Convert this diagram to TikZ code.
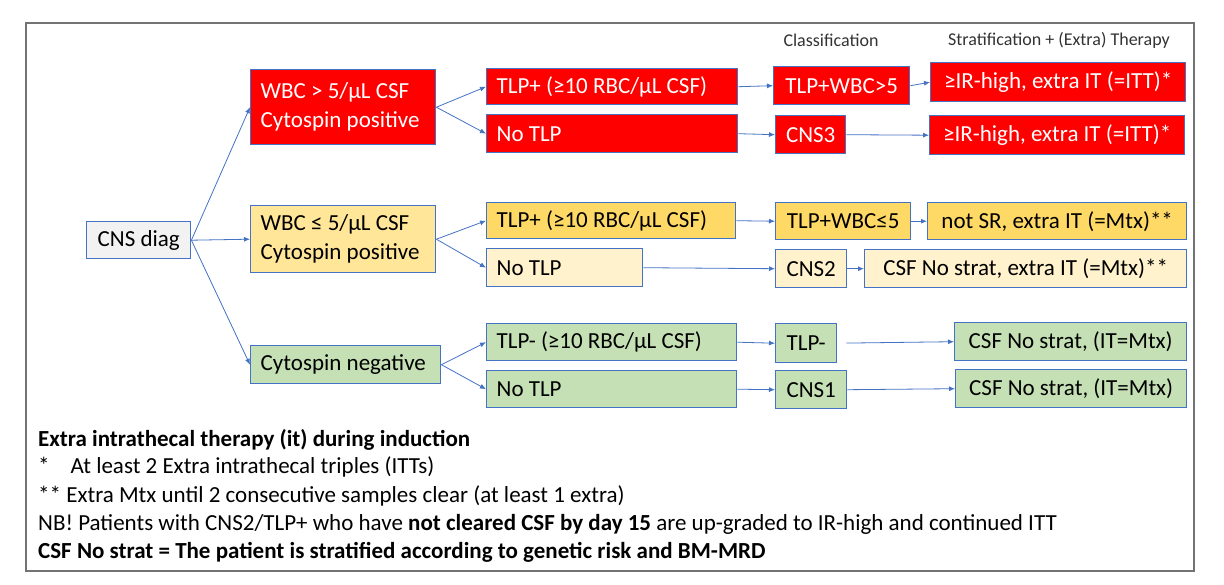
\documentclass[tikz,border=0pt]{standalone}
\usepackage{fontspec}
\setmainfont{Carlito}
\usetikzlibrary{arrows.meta}
\definecolor{bord}{HTML}{4472C4}
\definecolor{cred}{HTML}{FF0000}
\definecolor{cyel}{HTML}{FFD966}
\definecolor{cyelm}{HTML}{FFE699}
\definecolor{cyell}{HTML}{FFF2CC}
\definecolor{cgrn}{HTML}{C5E0B4}
\definecolor{cgry}{HTML}{F2F2F2}
\newcommand{\bxfont}{\fontsize{23}{29}\selectfont}
\newcommand{\hdfont}{\fontsize{18}{22}\selectfont}
\newcommand{\lbtext}[2]{\parbox{#1}{\raggedright #2}}
\begin{document}
\begin{tikzpicture}[x=1pt,y=-1pt,
  bx/.style={draw=bord, line width=1.4pt, anchor=north west, inner sep=0pt, font=\bxfont, align=center},
  lbx/.style={bx, inner xsep=10pt, inner ysep=0pt},
  arr/.style={draw=bord, line width=0.8pt, -{Latex[length=6pt,width=5pt]}},
  foot/.style={anchor=base west, inner sep=0pt, font=\bxfont},
  hdr/.style={inner sep=0pt, font=\hdfont, text=black!80}]
\useasboundingbox (0,0) rectangle (1224,584);
\fill[white] (0,0) rectangle (1224,584);
\draw[black!55, line width=1.8pt] (26,23) rectangle (1194,571);

% headers
\node[hdr] (hc) at (831,40) {Classification};
\node[hdr] (hs) at (1059,40) {Stratification + (Extra) Therapy};

% root
\node[bx, fill=cgry, minimum width=104pt, minimum height=37pt] (cns) at (86,221) {CNS diag};

% level 1
\node[lbx, fill=cred, text=white, minimum height=75pt] (wbcA) at (250,69) {\lbtext{165pt}{WBC > 5/µL CSF\\Cytospin positive}};
\node[lbx, fill=cyelm, minimum height=67pt] (wbcB) at (250,205) {\lbtext{165pt}{WBC ≤ 5/µL CSF\\Cytospin positive}};
\node[lbx, fill=cgrn, minimum height=38pt] (cyto) at (250,345) {\lbtext{170pt}{Cytospin negative}};

% level 2
\node[lbx, fill=cred, text=white, minimum height=36pt] (tlpA) at (486,68) {\lbtext{231pt}{TLP+ (≥10 RBC/µL CSF)}};
\node[lbx, fill=cred, text=white, minimum height=38pt] (ntlA) at (486,114) {\lbtext{231pt}{No TLP}};
\node[lbx, fill=cyel, minimum height=36pt] (tlpB) at (486,202) {\lbtext{229pt}{TLP+ (≥10 RBC/µL CSF)}};
\node[lbx, fill=cyell, minimum height=38pt] (ntlB) at (486,248) {\lbtext{136pt}{No TLP}};
\node[lbx, fill=cgrn, minimum height=37pt] (tlpC) at (486,323) {\lbtext{230pt}{TLP- (≥10 RBC/µL CSF)}};
\node[lbx, fill=cgrn, minimum height=37pt] (ntlC) at (486,370) {\lbtext{230pt}{No TLP}};

% classification
\node[bx, fill=cred, text=white, minimum width=136pt, minimum height=38pt] (clA1) at (773,66) {TLP+WBC>5};
\node[bx, fill=cred, text=white, minimum width=70pt, minimum height=38pt] (clA2) at (775,115) {CNS3};
\node[bx, fill=cyel, minimum width=135pt, minimum height=37pt] (clB1) at (775,202) {TLP+WBC≤5};
\node[bx, fill=cyell, minimum width=71pt, minimum height=38pt] (clB2) at (775,249) {CNS2};
\node[bx, fill=cgrn, minimum width=61pt, minimum height=39pt] (clC1) at (775,323) {TLP-};
\node[bx, fill=cgrn, minimum width=71pt, minimum height=38pt] (clC2) at (775,370) {CNS1};

% stratification
\node[bx, fill=cred, text=white, minimum width=255pt, minimum height=39pt] (stA1) at (930,62) {≥IR-high, extra IT (=ITT)*};
\node[bx, fill=cred, text=white, minimum width=255pt, minimum height=39pt] (stA2) at (929,115) {≥IR-high, extra IT (=ITT)*};
\node[bx, fill=cyel, minimum width=259pt, minimum height=37pt] (stB1) at (927,202) {not SR, extra IT (=Mtx)**};
\node[bx, fill=cyell, minimum width=322pt, minimum height=38pt] (stB2) at (864,249) {CSF No strat, extra IT (=Mtx)**};
\node[bx, fill=cgrn, minimum width=232pt, minimum height=38pt] (stC1) at (954,322) {CSF No strat, (IT=Mtx)};
\node[bx, fill=cgrn, minimum width=231pt, minimum height=38pt] (stC2) at (955,369) {CSF No strat, (IT=Mtx)};

% arrows
\draw[arr] (cns.east) -- (wbcA.west);
\draw[arr] (cns.east) -- (wbcB.west);
\draw[arr] (cns.east) -- (cyto.west);
\draw[arr] (wbcA.east) -- (tlpA.west);
\draw[arr] (wbcA.east) -- (ntlA.west);
\draw[arr] (wbcB.east) -- (tlpB.west);
\draw[arr] (wbcB.east) -- (ntlB.west);
\draw[arr] (cyto.east) -- (tlpC.west);
\draw[arr] (cyto.east) -- (ntlC.west);
\draw[arr] (tlpA.east) -- (clA1.west);
\draw[arr] (ntlA.east) -- (clA2.west);
\draw[arr] (tlpB.east) -- (clB1.west);
\draw[arr] (ntlB.east) -- (clB2.west);
\draw[arr] (tlpC.east) -- (clC1.west);
\draw[arr] (ntlC.east) -- (clC2.west);
\draw[arr] (clA1.east) -- (stA1.west);
\draw[arr] (clA2.east) -- (stA2.west);
\draw[arr] (clB1.east) -- (stB1.west);
\draw[arr] (clB2.east) -- (stB2.west);
\draw[arr, shorten <=9pt] (clC1.east) -- (stC1.west);
\draw[arr] (clC2.east) -- (stC2.west);

% footnotes
\node[foot] (f1) at (38,446) {\textbf{Extra intrathecal therapy (it) during induction}};
\node[foot] (f2) at (38,473) {*\hspace{21pt}At least 2 Extra intrathecal triples (ITTs)};
\node[foot] (f3) at (38,502) {** Extra Mtx until 2 consecutive samples clear (at least 1 extra)};
\node[foot] (f4) at (38,530) {NB! Patients with CNS2/TLP+ who have \textbf{not cleared CSF by day 15} are up-graded to IR-high and continued ITT};
\node[foot] (f5) at (38,558) {\textbf{CSF No strat = The patient is stratified according to genetic risk and BM-MRD}};
\end{tikzpicture}
\end{document}
